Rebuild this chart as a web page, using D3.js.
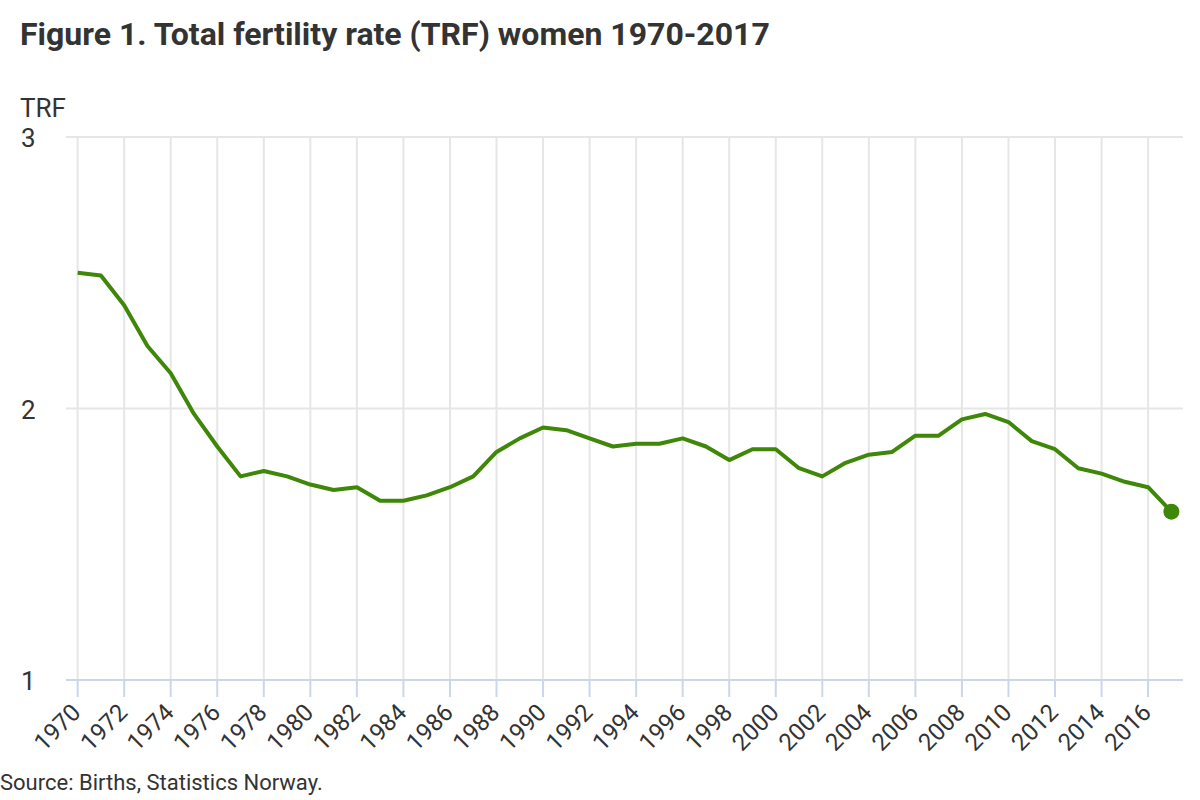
<!DOCTYPE html>
<html><head><meta charset="utf-8">
<script src="https://cdn.jsdelivr.net/npm/d3@7"></script>
<style>
body{margin:0;background:#fff;}
svg{font-family:Roboto,"Noto Sans",sans-serif;}
</style></head>
<body><svg id="c" width="1200" height="800"></svg>
<script>
const years = d3.range(1970, 2018);
const trf = [2.50,2.49,2.38,2.23,2.13,1.98,1.86,1.75,1.77,1.75,1.72,1.70,1.71,1.66,1.66,1.68,1.71,1.75,1.84,1.89,1.93,1.92,1.89,1.86,1.87,1.87,1.89,1.86,1.81,1.85,1.85,1.78,1.75,1.80,1.83,1.84,1.90,1.90,1.96,1.98,1.95,1.88,1.85,1.78,1.76,1.73,1.71,1.62];
const yTicks = [1,2,3];
const xTickYears = years.filter(y => y % 2 === 0);
const titleText = "Figure 1. Total fertility rate (TRF) women 1970-2017";
const yTitle = "TRF";
const sourceText = "Source: Births, Statistics Norway.";

const svg = d3.select("#c");
const pL = 66, pR = 1183, pT = 137, pB = 680;
const x = d3.scalePoint().domain(years).range([pL, pR]).padding(0.5);
const y = d3.scaleLinear().domain([1,3]).range([pB, pT]);
const green = "#3f8709";

// vertical grid
svg.append("g").selectAll("line").data(xTickYears).join("line")
  .attr("x1", d => x(d)).attr("x2", d => x(d))
  .attr("y1", pT).attr("y2", pB)
  .attr("stroke", "#e6e6e6").attr("stroke-width", 2);
// horizontal grid
svg.append("g").selectAll("line").data(yTicks.filter(v => v > 1)).join("line")
  .attr("x1", pL).attr("x2", pR)
  .attr("y1", d => y(d)).attr("y2", d => y(d))
  .attr("stroke", "#e6e6e6").attr("stroke-width", 2);
// x axis line and ticks
svg.append("line").attr("x1", pL).attr("x2", pR).attr("y1", pB).attr("y2", pB)
  .attr("stroke", "#ccd6eb").attr("stroke-width", 2);
svg.append("g").selectAll("line").data(xTickYears).join("line")
  .attr("x1", d => x(d)).attr("x2", d => x(d))
  .attr("y1", pB).attr("y2", pB + 17)
  .attr("stroke", "#ccd6eb").attr("stroke-width", 2);
// x labels
svg.append("g").selectAll("text").data(xTickYears).join("text")
  .attr("transform", d => `translate(${x(d)+4.5},${pB+34}) rotate(-45)`)
  .attr("text-anchor", "end")
  .attr("font-size", 24).attr("fill", "#333")
  .text(d => d);
// y labels
svg.append("g").selectAll("text").data(yTicks).join("text")
  .attr("x", 21).attr("y", d => y(d) + 10)
  .attr("font-size", 26).attr("fill", "#333")
  .text(d => d);
svg.append("text").attr("x", 20).attr("y", 117).attr("font-size", 26).attr("fill", "#333").text(yTitle);

// line
const line = d3.line().x((d,i) => x(years[i])).y(d => y(d));
svg.append("path").datum(trf).attr("d", line)
  .attr("fill", "none").attr("stroke", green).attr("stroke-width", 4)
  .attr("stroke-linejoin", "round");
svg.append("circle").attr("cx", x(years[years.length-1])).attr("cy", y(trf[trf.length-1]))
  .attr("r", 8).attr("fill", green);

// title
svg.append("text").attr("x", 20).attr("y", 45).attr("font-size", 32).attr("font-weight", "bold")
  .attr("fill", "#333").text(titleText);
// source
svg.append("text").attr("x", 0).attr("y", 790).attr("font-size", 22).attr("fill", "#333").text(sourceText);
</script></body></html>
